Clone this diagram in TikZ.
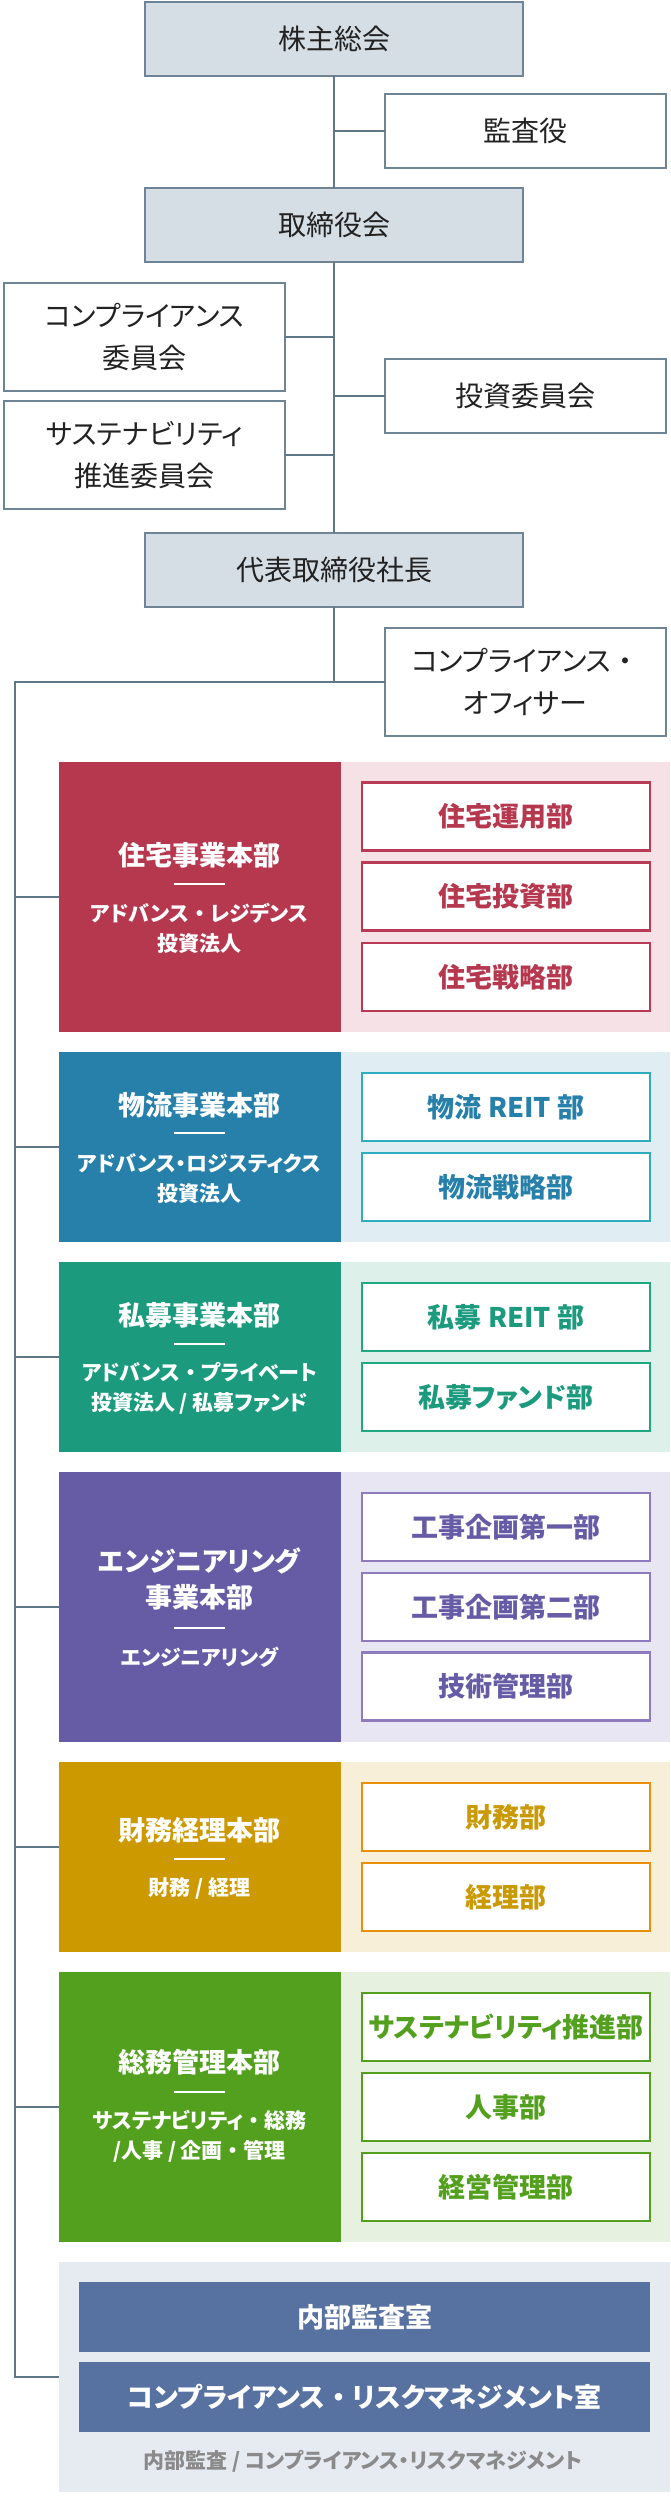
\documentclass[tikz,border=0pt]{standalone}
\usepackage{fontspec}
\setmainfont{Noto Sans CJK JP}[RawFeature={+palt}]
\newfontfamily\nopalt{Noto Sans CJK JP}
\newcommand{\fdot}{{\nopalt ・}}
\definecolor{topfill}{HTML}{D6DEE5}
\definecolor{topdraw}{HTML}{6F8494}
\definecolor{lncol}{HTML}{5F7787}
\definecolor{txdark}{HTML}{222222}
\definecolor{jbk}{HTML}{B5384F}\definecolor{jpn}{HTML}{F6E2E6}\definecolor{jbd}{HTML}{B93A55}\definecolor{jtx}{HTML}{B5384F}
\definecolor{bbk}{HTML}{2680AA}\definecolor{bpn}{HTML}{E0EDF3}\definecolor{bbd}{HTML}{2EADBE}\definecolor{btx}{HTML}{2680AA}
\definecolor{sbk}{HTML}{1B9A7E}\definecolor{spn}{HTML}{DDF0EA}\definecolor{sbd}{HTML}{20A880}\definecolor{stx}{HTML}{1B9A7E}
\definecolor{ebk}{HTML}{665BA5}\definecolor{epn}{HTML}{E8E6F2}\definecolor{ebd}{HTML}{8E7BBE}\definecolor{etx}{HTML}{665BA5}
\definecolor{fbk}{HTML}{CC9900}\definecolor{fpn}{HTML}{F8EFD9}\definecolor{fbd}{HTML}{E8900C}\definecolor{ftx}{HTML}{C99A06}
\definecolor{gbk}{HTML}{52A01E}\definecolor{gpn}{HTML}{E6F1E0}\definecolor{gbd}{HTML}{52A01E}\definecolor{gtx}{HTML}{52A01E}
\definecolor{apn}{HTML}{E6EBF2}\definecolor{abx}{HTML}{5771A1}\definecolor{atx}{HTML}{8A8A8A}
\begin{document}
\begin{tikzpicture}[x=1pt,y=-1pt,
  conn/.style={draw=lncol,line width=2pt},
  topbox/.style={draw=topdraw,fill=topfill,line width=2pt,inner sep=0pt,outer sep=0pt,
    anchor=north west,minimum width=378pt,minimum height=74pt,text=txdark,
    font=\fontsize{28}{42}\selectfont,align=center},
  wbox/.style={draw=topdraw,fill=white,line width=2pt,inner sep=0pt,outer sep=0pt,
    anchor=north west,minimum width=281pt,minimum height=74pt,text=txdark,
    font=\fontsize{28}{42}\selectfont,align=center},
  wbox2/.style={wbox,minimum height=108pt},
  block/.style={fill=#1,inner sep=0pt,outer sep=0pt,anchor=north west,minimum width=282pt},
  panel/.style={fill=#1,inner sep=0pt,outer sep=0pt,anchor=north west,minimum width=329.5pt},
  subbox/.style={draw=#1,fill=white,line width=2.3pt,inner sep=0pt,outer sep=0pt,
    minimum width=288pt,minimum height=68pt,font=\bfseries\fontsize{27}{32}\selectfont},
  ttl/.style={text=white,inner sep=0pt,font=\bfseries\fontsize{27}{36}\selectfont,align=center},
  stl/.style={text=white,inner sep=0pt,font=\bfseries\fontsize{21}{30}\selectfont,align=center},
  bluebox/.style={fill=abx,inner sep=0pt,minimum width=571pt,minimum height=70pt,text=white,
    font=\bfseries\fontsize{27}{32}\selectfont},
  dashw/.style={draw=white,line width=2.5pt}
]
\useasboundingbox (0,0) rectangle (670,2498);

% top structure
\node[topbox] (kabu) at (145,2) {株主総会};
\node[wbox] (kansa) at (385,94) {監査役};
\node[topbox] (tori) at (145,188) {取締役会};
\node[wbox2] (comp) at (4,283) {コンプライアンス\\委員会};
\node[wbox] (toshi) at (385,359) {投資委員会};
\node[wbox2] (sust) at (4,401) {サステナビリティ\\推進委員会};
\node[topbox] (pres) at (145,533) {代表取締役社長};
\node[wbox2] (cco) at (385,628) {コンプライアンス\fdot\\オフィサー};

\draw[conn] (kabu.south) -- (tori.north);
\draw[conn] (tori.south) -- (pres.north);
\draw[conn] (pres.south) -- (pres.south |- cco.west);
\draw[conn] (kansa.west) -- (kansa.west -| kabu.south);
\draw[conn] (comp.east) -- (comp.east -| tori.south);
\draw[conn] (toshi.west) -- (toshi.west -| tori.south);
\draw[conn] (sust.east) -- (sust.east -| tori.south);
\draw[conn] (cco.west) -- (cco.west -| pres.south);

% division panels and blocks
\node[panel=jpn,minimum height=270pt] (jp) at (340.5,762) {};
\node[block=jbk,minimum height=270pt] (jb) at (58.5,762) {};
\node[panel=bpn,minimum height=190pt] (bp) at (340.5,1052) {};
\node[block=bbk,minimum height=190pt] (bb) at (58.5,1052) {};
\node[panel=spn,minimum height=190pt] (sp) at (340.5,1262) {};
\node[block=sbk,minimum height=190pt] (sb) at (58.5,1262) {};
\node[panel=epn,minimum height=270pt] (ep) at (340.5,1472) {};
\node[block=ebk,minimum height=270pt] (eb) at (58.5,1472) {};
\node[panel=fpn,minimum height=190pt] (fp) at (340.5,1762) {};
\node[block=fbk,minimum height=190pt] (fb) at (58.5,1762) {};
\node[panel=gpn,minimum height=270pt] (gp) at (340.5,1972) {};
\node[block=gbk,minimum height=270pt] (gb) at (58.5,1972) {};
\node[fill=apn,inner sep=0pt,outer sep=0pt,anchor=north west,minimum width=611.5pt,minimum height=230pt] (ap) at (58.5,2262) {};

% spine
\coordinate (spine) at (15,682);
\coordinate (fc) at (58.5,1847);
\draw[conn] (pres.south |- cco.west) -- (spine) -- (spine |- ap.west) -- (ap.west);
\draw[conn] (spine |- jb.west) -- (jb.west);
\draw[conn] (spine |- bb.west) -- (bb.west);
\draw[conn] (spine |- sb.west) -- (sb.west);
\draw[conn] (spine |- eb.west) -- (eb.west);
\draw[conn] (spine |- fc) -- (fc);
\draw[conn] (spine |- gb.west) -- (gb.west);

% 住宅
\node[ttl] (jt) at (199.5,855) {住宅事業本部};
\draw[dashw] (174,884) -- (225,884);
\node[stl] (js) at (199.5,928.5) {アドバンス\fdot レジデンス\\投資法人};
\node[subbox=jbd,text=jtx] (j1) at (506,816.5) {住宅運用部};
\node[subbox=jbd,text=jtx] (j2) at (506,896.5) {住宅投資部};
\node[subbox=jbd,text=jtx] (j3) at (506,977) {住宅戦略部};

% 物流
\node[ttl] (bt) at (199.5,1105) {物流事業本部};
\draw[dashw] (174,1133) -- (225,1133);
\node[stl] (bs) at (199.5,1178.5) {アドバンス・ロジスティクス\\投資法人};
\node[subbox=bbd,text=btx] (b1) at (506,1107) {物流 REIT 部};
\node[subbox=bbd,text=btx] (b2) at (506,1187) {物流戦略部};

% 私募
\node[ttl] (st) at (199.5,1315) {私募事業本部};
\draw[dashw] (174,1344) -- (225,1344);
\node[stl] (ss) at (199.5,1388.5) {アドバンス\fdot プライベート\\投資法人 / 私募ファンド};
\node[subbox=sbd,text=stx] (s1) at (506,1317) {私募 REIT 部};
\node[subbox=sbd,text=stx] (s2) at (506,1397) {私募ファンド部};

% エンジニアリング
\node[ttl] (et) at (199.5,1579) {エンジニアリング\\事業本部};
\draw[dashw] (174,1628) -- (225,1628);
\node[stl] (es) at (199.5,1657) {エンジニアリング};
\node[subbox=ebd,text=etx] (e1) at (506,1527) {工事企画第一部};
\node[subbox=ebd,text=etx] (e2) at (506,1607) {工事企画第二部};
\node[subbox=ebd,text=etx] (e3) at (506,1686.5) {技術管理部};

% 財務経理
\node[ttl] (ft) at (199.5,1830) {財務経理本部};
\draw[dashw] (174,1859) -- (225,1859);
\node[stl] (fs) at (199.5,1888) {財務 / 経理};
\node[subbox=fbd,text=ftx] (f1) at (506,1817) {財務部};
\node[subbox=fbd,text=ftx] (f2) at (506,1897) {経理部};

% 総務管理
\node[ttl] (gt) at (199.5,2062) {総務管理本部};
\draw[dashw] (174,2092) -- (225,2092);
\node[stl] (gs) at (199.5,2136) {サステナビリティ\fdot 総務\\/人事 / 企画\fdot 管理};
\node[subbox=gbd,text=gtx] (g1) at (506,2027) {サステナビリティ推進部};
\node[subbox=gbd,text=gtx] (g2) at (506,2107) {人事部};
\node[subbox=gbd,text=gtx] (g3) at (506,2187) {経営管理部};

% 内部監査
\node[bluebox] (a1) at (364.5,2317) {内部監査室};
\node[bluebox] (a2) at (364.5,2397) {コンプライアンス\fdot リスクマネジメント室};
\node[text=atx,inner sep=0pt,font=\bfseries\fontsize{21}{26}\selectfont] (a3) at (363,2461) {内部監査 / コンプライアンス・リスクマネジメント};
\end{tikzpicture}
\end{document}
